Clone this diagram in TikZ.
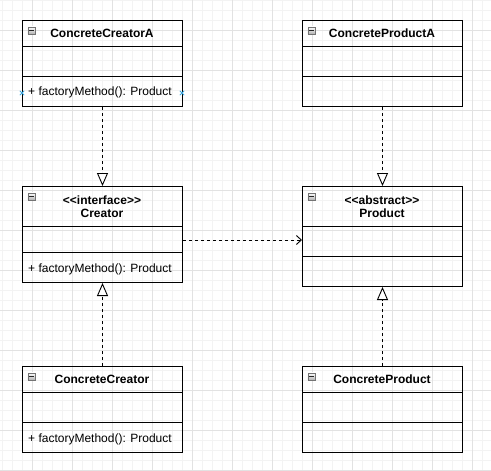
\documentclass[tikz,border=0pt]{standalone}
\usepackage{fontspec}
\setmainfont{Liberation Sans}[Ligatures=TeXOff]
\usetikzlibrary{arrows.meta}
\definecolor{gridminor}{HTML}{F3F3F3}
\definecolor{gridmajor}{HTML}{E2E2E2}
\definecolor{markblue}{HTML}{3FA9E0}
\begin{document}
\begin{tikzpicture}[x=1pt,y=-1pt,
  classbox/.style={draw=black, line width=1pt, minimum width=160pt, inner sep=0pt, anchor=north west},
  title/.style={font=\bfseries\fontsize{12}{13}\selectfont, align=center, inner sep=0pt},
  member/.style={font=\fontsize{12}{14}\selectfont, anchor=west, inner sep=0pt},
  icon/.style={draw=black!55, top color=white, bottom color=black!30, minimum size=7pt, inner sep=0pt, line width=0.6pt, anchor=north west},
  iconbar/.style={line width=1.2pt, black!85},
  divider/.style={line width=1pt, draw=black},
  realize/.style={line width=0.9pt, dash pattern=on 3pt off 3pt, -{Triangle[open, length=13pt, width=11pt, fill=white]}},
  depend/.style={line width=0.9pt, dash pattern=on 3pt off 3pt, -{Straight Barb[length=5pt, width=9pt]}},
  bluex/.style={markblue, line width=0.8pt}
]
\useasboundingbox (0,0) rectangle (491,471);
% grid
\foreach \x in {2,12,...,492} \draw[gridminor, line width=0.6pt] (\x,0) -- (\x,471);
\foreach \y in {0,10,...,470} \draw[gridminor, line width=0.6pt] (0,\y) -- (491,\y);
\foreach \x in {32,72,...,472} \draw[gridmajor, line width=0.8pt] (\x,0) -- (\x,471);
\foreach \y in {30,70,...,470} \draw[gridmajor, line width=0.8pt] (0,\y) -- (491,\y);

% ConcreteCreatorA
\node[classbox, minimum height=86pt] (cca) at (22,20) {};
\draw[divider] (22,46) -- (182,46);
\draw[divider] (22,76) -- (182,76);
\node[title] (ccaT) at (102,33.5) {ConcreteCreatorA};
\node[member] (ccaM) at (28,92.5) {+ factoryMethod(): Product};
\node[icon] (ccaI) at (27.5,26.5) {};
\draw[iconbar] ([xshift=1.6pt]ccaI.west) -- ([xshift=-1.6pt]ccaI.east);
\draw[bluex] (19.8,90.8) -- (24.2,95.2) (19.8,95.2) -- (24.2,90.8);
\draw[bluex] (179.8,90.8) -- (184.2,95.2) (179.8,95.2) -- (184.2,90.8);

% ConcreteProductA
\node[classbox, minimum height=86pt] (cpa) at (302,20) {};
\draw[divider] (302,46) -- (462,46);
\draw[divider] (302,76) -- (462,76);
\node[title] (cpaT) at (382,33.5) {ConcreteProductA};
\node[icon] (cpaI) at (307.5,26.5) {};
\draw[iconbar] ([xshift=1.6pt]cpaI.west) -- ([xshift=-1.6pt]cpaI.east);

% Creator
\node[classbox, minimum height=96pt] (cr) at (22,186) {};
\draw[divider] (22,226) -- (182,226);
\draw[divider] (22,252) -- (182,252);
\node[title] (crT) at (102,207) {<<interface>>\\Creator};
\node[member] (crM) at (28,269) {+ factoryMethod(): Product};
\node[icon] (crI) at (27.5,192.5) {};
\draw[iconbar] ([xshift=1.6pt]crI.west) -- ([xshift=-1.6pt]crI.east);

% Product
\node[classbox, minimum height=100pt] (pr) at (302,186) {};
\draw[divider] (302,226) -- (462,226);
\draw[divider] (302,256) -- (462,256);
\node[title] (prT) at (382,207) {<<abstract>>\\Product};
\node[icon] (prI) at (307.5,192.5) {};
\draw[iconbar] ([xshift=1.6pt]prI.west) -- ([xshift=-1.6pt]prI.east);

% ConcreteCreator
\node[classbox, minimum height=86pt] (cc) at (22,366) {};
\draw[divider] (22,392) -- (182,392);
\draw[divider] (22,422) -- (182,422);
\node[title] (ccT) at (102,379.5) {ConcreteCreator};
\node[member] (ccM) at (28,439) {+ factoryMethod(): Product};
\node[icon] (ccI) at (27.5,372.5) {};
\draw[iconbar] ([xshift=1.6pt]ccI.west) -- ([xshift=-1.6pt]ccI.east);

% ConcreteProduct
\node[classbox, minimum height=86pt] (cp) at (302,366) {};
\draw[divider] (302,392) -- (462,392);
\draw[divider] (302,422) -- (462,422);
\node[title] (cpT) at (382,379.5) {ConcreteProduct};
\node[icon] (cpI) at (307.5,372.5) {};
\draw[iconbar] ([xshift=1.6pt]cpI.west) -- ([xshift=-1.6pt]cpI.east);

% connectors
\draw[realize] (cca.south) -- (cr.north);
\draw[realize] (cpa.south) -- (pr.north);
\draw[realize] (cc.north) -- (cr.south);
\draw[realize] (cp.north) -- (pr.south);
\draw[depend] (cr.east |- 0,240) -- (pr.west |- 0,240);
\end{tikzpicture}
\end{document}
